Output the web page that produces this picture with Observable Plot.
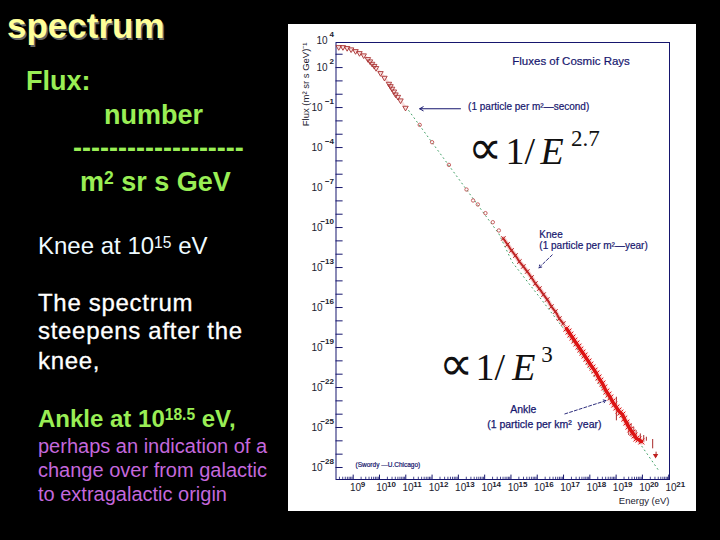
<!DOCTYPE html>
<html><head><meta charset="utf-8">
<script src="https://cdn.jsdelivr.net/npm/d3@7"></script>
<script src="https://cdn.jsdelivr.net/npm/@observablehq/plot@0.6"></script>
<style>
html,body{margin:0;padding:0;background:#000;width:720px;height:540px;overflow:hidden}
#chart{position:absolute;left:288px;top:24px}
.t{position:absolute;white-space:pre;font-family:"Liberation Sans",Arial,sans-serif;line-height:1.117}
.t sup{font-size:.65em;line-height:0;vertical-align:baseline;position:relative;top:-.42em}
</style></head><body>
<div id="chart"></div>
<script>
// ---- measured spectrum: log10(energy / eV) and log10(flux) ----
const lowE = [8.45,8.61,8.77,8.92,9.09,9.24,9.40,9.56,9.64,9.72,9.80,9.87,10.04,10.19,10.36,10.42,10.48,10.55,10.61,10.70,10.80,10.99];
const lowF = [3.53,3.53,3.46,3.36,3.23,3.08,2.91,2.63,2.46,2.28,2.12,1.96,1.58,1.23,0.78,0.60,0.41,0.20,-0.02,-0.20,-0.47,-1.02];
const midE = [11.53,12.00,12.64,13.31,13.56,13.74,14.03,14.31,14.54];
const midF = [-2.30,-3.60,-5.30,-7.15,-7.97,-8.27,-8.92,-9.60,-10.22];
const kneeE = [14.71,14.87,15.02,15.17,15.32,15.47,15.62,15.78,15.93,16.08,16.24,16.38,16.54,16.69,16.84,16.99];
const kneeF = [-10.82,-11.27,-11.72,-12.10,-12.55,-12.92,-13.30,-13.75,-14.20,-14.58,-15.03,-15.40,-15.93,-16.30,-16.83,-17.20];
const ankleE = [17.11,17.19,17.26,17.34,17.41,17.49,17.57,17.64,17.72,17.80,17.87,17.95,18.02,18.10,18.18,18.25,18.33,18.40,18.48,18.55,18.63,18.71,18.78,18.86,18.93,19.01,19.09,19.16,19.24,19.31,19.39,19.47,19.54,19.62,19.70,19.77,19.85,19.96];
const ankleF = [-17.58,-17.80,-18.03,-18.25,-18.48,-18.70,-18.93,-19.15,-19.38,-19.60,-19.83,-20.05,-20.28,-20.50,-20.73,-20.95,-21.25,-21.48,-21.70,-22.00,-22.30,-22.53,-22.75,-23.05,-23.28,-23.50,-23.73,-23.88,-24.03,-24.33,-24.63,-24.93,-25.15,-25.38,-25.60,-25.83,-25.90,-26.05];
const errE = [19.01,19.48,19.57,19.67,19.76,19.92,20.05,20.15,20.39,20.52];
const errLo = [-24.50,-25.60,-25.73,-25.85,-25.98,-26.23,-26.10,-26.03,-26.60,-27.25];
const errHi = [-22.73,-24.60,-24.73,-24.98,-25.23,-25.48,-25.60,-25.73,-25.90,-26.85];
const lastE = [20.50];
const lastF = [-27.10];
const fitE = [11.11,14.54,15.05,16.19,17.20,18.59,20.62];
const fitF = [-1.22,-10.47,-12.60,-15.48,-18.10,-22.47,-28.23];

// ---- axis ticks ----
const xDecades = [9,10,11,12,13,14,15,16,17,18,19,20,21];
const yLabels = [4,2,-1,-4,-7,-10,-13,-16,-19,-22,-25,-28];
const yDecades = [3,2,1,0,-1,-2,-3,-4,-5,-6,-7,-8,-9,-10,-11,-12,-13,-14,-15,-16,-17,-18,-19,-20,-21,-22,-23,-24,-25,-26,-27,-28];
const xSub = [2,3,4,5,6,7,8,9];
const xLo = 8.346, xHi = 21.03, yLo = -28.9, yHi = 3.88;

// ---- annotations ----
const noteText = ["Fluxes of Cosmic Rays","(1 particle per m²—second)","Knee","(1 particle per m²—year)","(Swordy —U.Chicago)"];
const noteE = [15.05,13.37,16.08,16.08,9.09];
const noteF = [2.45,-0.92,-10.52,-11.40,-27.83];
const noteSize = [11.5,10,10,10,6.5];
const ankleText = ["Ankle","(1 particle per km²  year)"];
const ankleNoteE = [15.47,16.27];
const ankleNoteF = [-23.65,-24.78];
const propText = ["∝","∝"];
const propE = [13.38,12.25];
const propF = [-5.2,-21.42];
const formulaText = ["1/","1/"];
const formulaE = [14.79,13.65];
const formulaF = [-5.2,-21.42];
const letterE = [16.12,15.05];
const letterF = [-5.2,-21.42];
const powText = ["2.7","3"];
const powE = [17.28,16.15];
const powF = [-3.85,-20.1];
const arrowsSolid = [[13.08,-1.09,11.53,-1.09]];
const arrowsDashed = [[16.57,-12.05,16.06,-13.02],[17.05,-23.98,18.62,-22.98]];

// ---- slide text ----
const slideLines = [
 ["spectrum",7,38,35,700,"#ffff99","1.5px 2px 0 #666"],
 ["Flux:",26,90.7,27,700,"#99ee55"],
 ["number",104,124,27,700,"#99ee55"],
 ["-------------------",73,157,27,700,"#99ee55"],
 ["m<sup>2</sup> sr s GeV",80,191.7,27,700,"#99ee55"],
 ["Knee at 10<sup>15</sup> eV",38,255,24,400,"#eefaff"],
 ["The spectrum",38,311.7,24,400,"#ffffff"],
 ["steepens after the",38,340,24,400,"#ffffff"],
 ["knee,",38,369.3,24,400,"#ffffff"],
 ["Ankle at 10<sup>18.5</sup> eV,",38,427.7,24,700,"#99ee55"],
 ["perhaps an indication of a",38,452.7,20,400,"#c468dc"],
 ["change over from galactic",38,477.3,20,400,"#c468dc"],
 ["to extragalactic origin",38,500.7,20,400,"#c468dc"]
];
for (const [html,x,base,size,weight,color,shadow] of slideLines) {
  const d = document.createElement("div");
  d.className = "t";
  d.innerHTML = html;
  d.style.cssText = `left:${x}px;top:${base-0.905*size}px;font-size:${size}px;font-weight:${weight};color:${color};`+
    (shadow?`text-shadow:${shadow};`:"")+
    (color==="#ffffff"?"letter-spacing:.7px;-webkit-text-stroke:.3px #fff;":"");
  document.body.appendChild(d);
}

const navy = "#16166e", ink = "#222230";
const sans = "Liberation Sans", serif = "Liberation Serif";
const p = (x,y) => ({x:10**x, y:10**y});
const pts = (E,F) => E.map((e,i)=>p(e,F[i]));
const subTicks = xDecades.flatMap(d=>xSub.map(k=>d-1+Math.log10(k))).filter(v=>v>xLo&&v<xHi);

const fig = Plot.plot({
  width:408, height:487,
  marginLeft:47.5, marginRight:27, marginTop:18, marginBottom:32,
  style:{background:"#fff",fontFamily:sans,overflow:"visible"},
  x:{type:"log",domain:[10**xLo,10**xHi],axis:null},
  y:{type:"log",domain:[10**yLo,10**yHi],axis:null},
  marks:[
    Plot.frame({stroke:navy,strokeWidth:1}),
    // ticks
    Plot.ruleY(yDecades,{y:d=>10**d,x1:10**xLo,x2:10**(xLo+0.27),stroke:navy}),
    Plot.ruleX(xDecades,{x:d=>10**d,y1:10**yLo,y2:10**(yLo+0.33),stroke:navy}),
    Plot.ruleX(subTicks,{x:d=>10**d,y1:10**yLo,y2:10**(yLo+0.17),stroke:navy,strokeWidth:.8}),
    // tick labels
    Plot.text(yLabels.filter(d=>d>0),{y:d=>10**d,text:()=>"10",frameAnchor:"left",textAnchor:"end",dx:-8.5,fontSize:10,fill:ink}),
    Plot.text(yLabels.filter(d=>d<0),{y:d=>10**d,text:()=>"10",frameAnchor:"left",textAnchor:"end",dx:-13.5,fontSize:10,fill:ink}),
    Plot.text(yLabels,{y:d=>10**d,text:d=>String(d).replace("-","−"),frameAnchor:"left",textAnchor:"end",dx:-2,dy:-6,fontSize:8,fontWeight:700,fill:ink}),
    Plot.text(xDecades,{x:d=>10**d,text:()=>"10",frameAnchor:"bottom",dx:2.3,dy:11.7,fontSize:10,fill:ink}),
    Plot.text(xDecades,{x:d=>10**d,text:d=>String(d),frameAnchor:"bottom",textAnchor:"start",dx:7.5,dy:7,fontSize:8,fontWeight:700,fill:ink}),
    Plot.text(["Energy (eV)"],{frameAnchor:"bottom-right",textAnchor:"end",dy:24,fontSize:9.5,fill:ink}),
    Plot.text(["Flux (m² sr s GeV)⁻¹"],{frameAnchor:"top-left",rotate:-90,textAnchor:"end",dx:-34,fontSize:9.5,fill:ink}),
    // fit line
    Plot.line(pts(fitE,fitF),{x:"x",y:"y",stroke:"#3f9f66",strokeWidth:1,strokeDasharray:"1 3.5"}),
    // data
    Plot.line(pts(lowE,lowF),{x:"x",y:"y",stroke:"#f0b0b0",strokeWidth:3,strokeOpacity:.4}),
    Plot.dot(pts(lowE,lowF),{x:"x",y:"y",symbol:"triangle",rotate:180,r:2,stroke:"#a83030",fill:"none",strokeWidth:.9}),
    Plot.dot(pts(midE,midF),{x:"x",y:"y",r:1.7,stroke:"#c05050",fill:"none",strokeWidth:.9}),
    Plot.line(pts(kneeE,kneeF),{x:"x",y:"y",stroke:"#f0a0a0",strokeWidth:4.5,strokeOpacity:.5}),
    Plot.line(pts(kneeE,kneeF),{x:"x",y:"y",stroke:"#c42a2a",strokeWidth:2}),
    Plot.dot(pts(kneeE,kneeF),{x:"x",y:"y",symbol:"times",r:2.2,stroke:"#b82020",strokeWidth:1}),
    Plot.ruleX(errE.map((e,i)=>({x:10**e,y1:10**errLo[i],y2:10**errHi[i]})),{x:"x",y1:"y1",y2:"y2",stroke:"#a82a2a",strokeWidth:1}),
    Plot.line(pts(ankleE,ankleF),{x:"x",y:"y",stroke:"#f4a0a0",strokeWidth:7,strokeOpacity:.35}),
    Plot.line(pts(ankleE,ankleF),{x:"x",y:"y",stroke:"#dd1414",strokeWidth:3.5}),
    Plot.dot(pts(ankleE,ankleF),{x:"x",y:"y",symbol:"times",r:2.8,stroke:"#dd1414",strokeWidth:1}),
    Plot.dot(pts(lastE,lastF),{x:"x",y:"y",symbol:"triangle",rotate:180,r:2,fill:"#c02020"}),
    // arrows
    Plot.arrow(arrowsSolid.map(a=>({x1:10**a[0],y1:10**a[1],x2:10**a[2],y2:10**a[3]})),{x1:"x1",y1:"y1",x2:"x2",y2:"y2",stroke:navy,strokeWidth:1,headLength:6}),
    Plot.arrow(arrowsDashed.map(a=>({x1:10**a[0],y1:10**a[1],x2:10**a[2],y2:10**a[3]})),{x1:"x1",y1:"y1",x2:"x2",y2:"y2",stroke:navy,strokeWidth:.9,strokeDasharray:"3 2",headLength:5}),
    // notes
    Plot.text(noteText.map((t,i)=>({t,...p(noteE[i],noteF[i]),s:noteSize[i]})),{x:"x",y:"y",text:"t",fontSize:"s",textAnchor:"start",fill:navy,stroke:navy,strokeWidth:.2}),
    Plot.text(ankleText.map((t,i)=>({t,...p(ankleNoteE[i],ankleNoteF[i])})),{x:"x",y:"y",text:"t",fontSize:10.5,textAnchor:"middle",fill:navy,stroke:navy,strokeWidth:.25}),
    // proportionality formulas
    Plot.text(propText.map((t,i)=>({t,...p(propE[i],propF[i])})),{x:"x",y:"y",text:"t",fontFamily:serif,fontSize:48,textAnchor:"start",lineAnchor:"bottom",fill:"#111"}),
    Plot.text(formulaText.map((t,i)=>({t,...p(formulaE[i],formulaF[i])})),{x:"x",y:"y",text:"t",fontFamily:serif,fontSize:38,textAnchor:"start",lineAnchor:"bottom",fill:"#111"}),
    Plot.text(letterE.map((e,i)=>p(e,letterF[i])),{x:"x",y:"y",text:()=>"E",fontFamily:serif,fontStyle:"italic",fontSize:38,textAnchor:"start",lineAnchor:"bottom",fill:"#111"}),
    Plot.text(powText.map((t,i)=>({t,...p(powE[i],powF[i])})),{x:"x",y:"y",text:"t",fontFamily:serif,fontSize:23,textAnchor:"start",lineAnchor:"bottom",fill:"#111"})
  ]
});
document.getElementById("chart").appendChild(fig);
</script>
</body></html>
